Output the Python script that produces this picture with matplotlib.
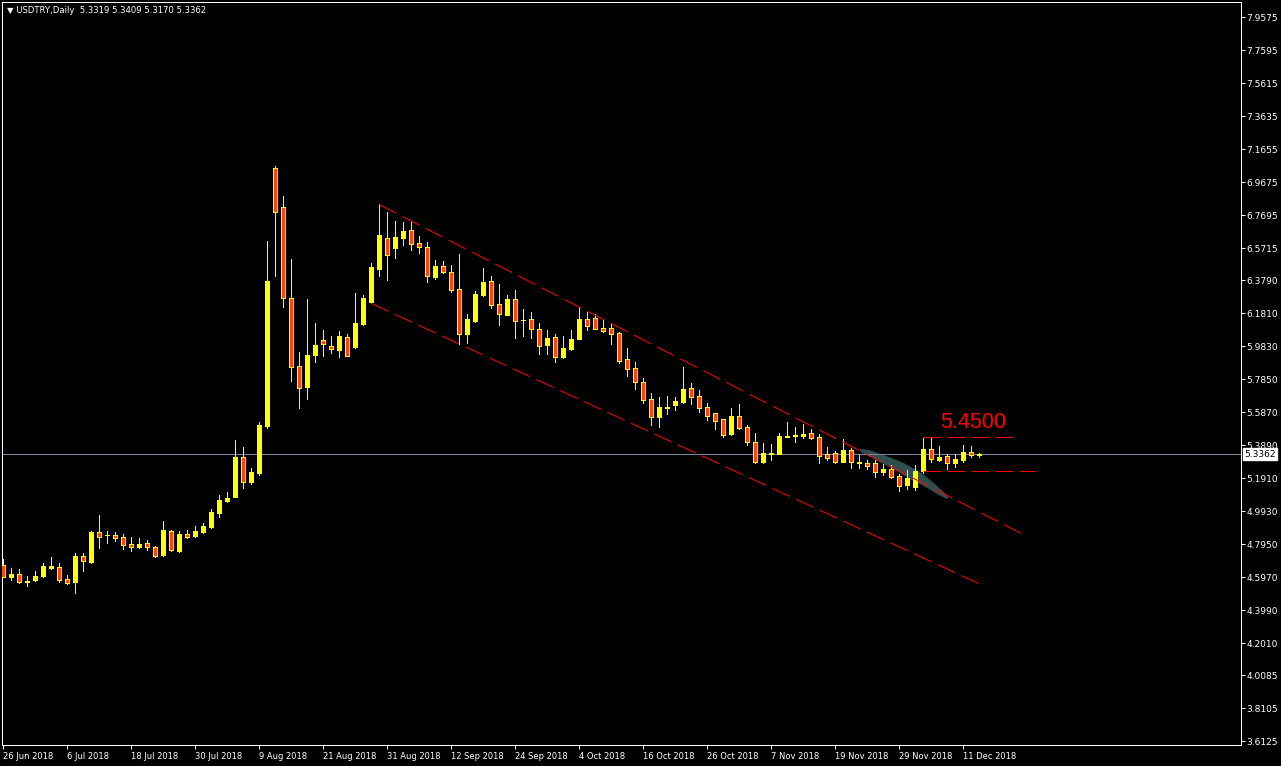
import numpy as np
import pandas as pd
import matplotlib
matplotlib.use('Agg')
import matplotlib.pyplot as plt
from matplotlib.patches import Polygon

plt.rcParams['font.family'] = ['DejaVu Sans']

# daily OHLC (26 Jun 2018 .. 13 Dec 2018)
opens = [4.670, 4.598, 4.616, 4.571, 4.580, 4.604, 4.652, 4.658, 4.586, 4.568,
         4.724, 4.688, 4.868, 4.848, 4.850, 4.838, 4.796, 4.778, 4.802, 4.778,
         4.730, 4.874, 4.754, 4.856, 4.844, 4.868, 4.898, 4.984, 5.056, 5.080,
         5.316, 5.168, 5.222, 5.504, 7.050, 6.816, 6.270, 5.862, 5.740, 5.932,
         6.020, 5.984, 5.962, 6.038, 5.980, 6.118, 6.248, 6.448, 6.632, 6.574,
         6.634, 6.678, 6.602, 6.576, 6.400, 6.464, 6.428, 6.326, 6.058, 6.134,
         6.288, 6.374, 6.236, 6.172, 6.266, 6.138, 6.146, 6.086, 5.992, 6.038,
         5.920, 5.968, 6.028, 6.146, 6.152, 6.092, 6.092, 6.060, 5.904, 5.850,
         5.766, 5.664, 5.560, 5.614, 5.630, 5.648, 5.730, 5.682, 5.616, 5.580,
         5.544, 5.454, 5.562, 5.496, 5.406, 5.290, 5.336, 5.338, 5.440, 5.446,
         5.444, 5.462, 5.438, 5.334, 5.342, 5.290, 5.358, 5.282, 5.282, 5.282,
         5.230, 5.246, 5.202, 5.152, 5.140, 5.232, 5.366, 5.300, 5.324, 5.282,
         5.300, 5.348, 5.3319]
highs = [4.706, 4.650, 4.646, 4.604, 4.634, 4.682, 4.718, 4.682, 4.610, 4.742,
         4.742, 4.874, 4.970, 4.874, 4.868, 4.856, 4.838, 4.832, 4.820, 4.784,
         4.934, 4.880, 4.874, 4.880, 4.904, 4.922, 5.006, 5.090, 5.108, 5.420,
         5.378, 5.252, 5.528, 6.614, 7.064, 6.884, 6.506, 5.948, 6.266, 6.122,
         6.080, 6.044, 6.074, 6.056, 6.302, 6.290, 6.482, 6.834, 6.788, 6.734,
         6.728, 6.728, 6.644, 6.608, 6.500, 6.494, 6.470, 6.536, 6.176, 6.314,
         6.452, 6.404, 6.356, 6.290, 6.320, 6.206, 6.188, 6.122, 6.080, 6.056,
         6.044, 6.080, 6.218, 6.188, 6.176, 6.140, 6.116, 6.070, 5.970, 5.886,
         5.790, 5.702, 5.678, 5.684, 5.678, 5.858, 5.762, 5.720, 5.642, 5.580,
         5.544, 5.612, 5.636, 5.508, 5.462, 5.402, 5.396, 5.460, 5.528, 5.498,
         5.516, 5.486, 5.456, 5.378, 5.354, 5.424, 5.372, 5.330, 5.298, 5.298,
         5.274, 5.268, 5.216, 5.238, 5.268, 5.432, 5.432, 5.384, 5.336, 5.334,
         5.390, 5.384, 5.3409]
lows = [4.598, 4.582, 4.562, 4.544, 4.577, 4.598, 4.646, 4.568, 4.556, 4.502,
        4.634, 4.682, 4.772, 4.802, 4.814, 4.766, 4.754, 4.772, 4.760, 4.718,
        4.724, 4.754, 4.751, 4.832, 4.838, 4.862, 4.895, 4.958, 5.050, 5.080,
        5.134, 5.158, 5.212, 5.494, 6.404, 6.220, 5.776, 5.614, 5.668, 5.890,
        5.926, 5.944, 5.920, 5.926, 5.974, 6.110, 6.244, 6.404, 6.382, 6.514,
        6.590, 6.560, 6.542, 6.370, 6.388, 6.420, 6.310, 5.996, 6.004, 6.128,
        6.284, 6.214, 6.110, 6.172, 6.034, 6.046, 6.034, 5.938, 5.938, 5.890,
        5.914, 5.962, 6.028, 6.082, 6.088, 6.070, 5.998, 5.884, 5.806, 5.726,
        5.644, 5.510, 5.500, 5.578, 5.600, 5.642, 5.636, 5.588, 5.540, 5.488,
        5.440, 5.450, 5.488, 5.392, 5.284, 5.284, 5.302, 5.338, 5.436, 5.408,
        5.432, 5.428, 5.284, 5.298, 5.280, 5.290, 5.254, 5.254, 5.244, 5.200,
        5.208, 5.194, 5.114, 5.128, 5.122, 5.220, 5.290, 5.294, 5.244, 5.256,
        5.288, 5.316, 5.3170]
closes = [4.600, 4.616, 4.568, 4.577, 4.604, 4.664, 4.664, 4.580, 4.564, 4.724,
          4.696, 4.868, 4.838, 4.850, 4.832, 4.790, 4.778, 4.796, 4.780, 4.724,
          4.880, 4.760, 4.856, 4.838, 4.874, 4.904, 4.988, 5.060, 5.072, 5.318,
          5.170, 5.228, 5.510, 6.374, 6.790, 6.274, 5.860, 5.734, 5.930, 5.990,
          5.998, 5.968, 6.044, 5.926, 6.122, 6.272, 6.458, 6.650, 6.532, 6.638,
          6.674, 6.598, 6.576, 6.406, 6.464, 6.430, 6.322, 6.058, 6.146, 6.296,
          6.368, 6.232, 6.178, 6.266, 6.136, 6.140, 6.088, 5.986, 6.032, 5.920,
          5.972, 6.026, 6.146, 6.106, 6.088, 6.076, 6.058, 5.896, 5.848, 5.766,
          5.662, 5.560, 5.616, 5.618, 5.654, 5.724, 5.680, 5.614, 5.566, 5.536,
          5.452, 5.562, 5.494, 5.410, 5.290, 5.340, 5.342, 5.442, 5.444, 5.450,
          5.456, 5.434, 5.326, 5.310, 5.290, 5.358, 5.286, 5.290, 5.262, 5.226,
          5.248, 5.200, 5.142, 5.190, 5.232, 5.366, 5.304, 5.318, 5.280, 5.306,
          5.348, 5.328, 5.3362]
dates = pd.bdate_range('2018-06-26', periods=len(closes))

price_ticks = ['7.9575', '7.7595', '7.5615', '7.3635', '7.1655', '6.9675', '6.7695',
               '6.5715', '6.3790', '6.1810', '5.9830', '5.7850', '5.5870', '5.3890',
               '5.1910', '4.9930', '4.7950', '4.5970', '4.3990', '4.2010', '4.0085',
               '3.8105', '3.6125']
last_price = 5.3362

# drawn objects (bar index, price)
upper_x = [47.0, 127.2]
upper_y = [6.832, 4.860]
lower_x = [45.96, 121.96]
lower_y = [6.240, 4.558]
level_hi = 5.4364
level_lo = 5.2324
shape_top_x = [107.1, 108.3, 110.4, 112.5, 114.6, 116.25, 118.1]
shape_top_y = [5.364, 5.356, 5.320, 5.280, 5.224, 5.160, 5.080]
shape_bot_x = [107.3, 109.2, 111.25, 113.3, 115.0, 116.7, 117.9]
shape_bot_y = [5.348, 5.300, 5.250, 5.190, 5.150, 5.100, 5.070]

W, H = 1281, 766
fig = plt.figure(figsize=(W / 100, H / 100), dpi=100, facecolor='black')
ax = fig.add_axes([2 / W, 21 / H, 1239 / W, 743 / H], facecolor='black')

px = 0.72  # one pixel in points
idx = np.arange(len(closes))
o = np.array(opens); c = np.array(closes)
h = np.array(highs); l = np.array(lows)
bull = c >= o

# teal object
pts = list(zip(shape_top_x, shape_top_y)) + list(zip(shape_bot_x, shape_bot_y))[::-1]
ax.add_patch(Polygon(pts, closed=True, facecolor='#2F4F4F', edgecolor='#2F4F4F',
                     lw=px, zorder=1))

# bid line
ax.axhline(last_price, color='#778899', lw=px, zorder=2)

# channel lines and levels
ax.plot(upper_x, upper_y, color='red', lw=px, ls=(0, (19, 7)), zorder=4)
ax.plot(lower_x, lower_y, color='red', lw=px, ls=(0, (19, 7)), zorder=4)
ax.plot([114.96, 126.2], [level_hi, level_hi], color='red', lw=px, ls=(0, (18, 6)), zorder=4)
ax.plot([114.96, 128.96], [level_lo, level_lo], color='red', lw=px, ls=(0, (18, 6)), zorder=4)
ax.text(117.1, 5.490, '5.4500', color='red', fontsize=15.5,
        family='Liberation Sans', va='baseline', ha='left', zorder=5)

# candles
ax.vlines(idx, l, h, color='#FFFF00', lw=px, antialiased=False, zorder=3)
ax.bar(idx, np.abs(c - o), bottom=np.minimum(o, c), width=0.5,
       color=np.where(bull, '#FFFF00', '#FF4500'), edgecolor='#FFFF00',
       lw=px, antialiased=False, zorder=3)

ax.set_xlim((2 - 3.3) / 8, (1241 - 3.3) / 8)
ax.set_ylim(last_price - 291 / 166.67, last_price + 452 / 166.67)

for s in ax.spines.values():
    s.set_color('white')
    s.set_linewidth(px)

ax.yaxis.tick_right()
ax.set_yticks([float(t) for t in price_ticks])
ax.set_yticklabels(price_ticks)
xt = idx[::8]
ax.set_xticks(xt)
ax.set_xticklabels([f'{d.day} {d:%b %Y}' for d in dates[::8]])
ax.tick_params(colors='white', length=3, width=px)
ax.tick_params(axis='y', labelsize=6.5, pad=1)
ax.tick_params(axis='x', labelsize=6.0, pad=2)
for lb in ax.get_xticklabels():
    lb.set_ha('left')

ax.annotate(f'{last_price:.4f}', xy=(1, last_price), xycoords=ax.get_yaxis_transform(),
            xytext=(3, 0), textcoords='offset pixels', va='center', ha='left',
            color='black', fontsize=6.5,
            bbox=dict(boxstyle='square,pad=0.15', fc='white', ec='white'))

fig.text(7 / W, 1 - 10.5 / H, '\u25bc USDTRY,Daily  5.3319 5.3409 5.3170 5.3362',
         color='white', fontsize=6.1, va='center', ha='left')

fig.savefig('out.png', dpi=100, facecolor='black')
